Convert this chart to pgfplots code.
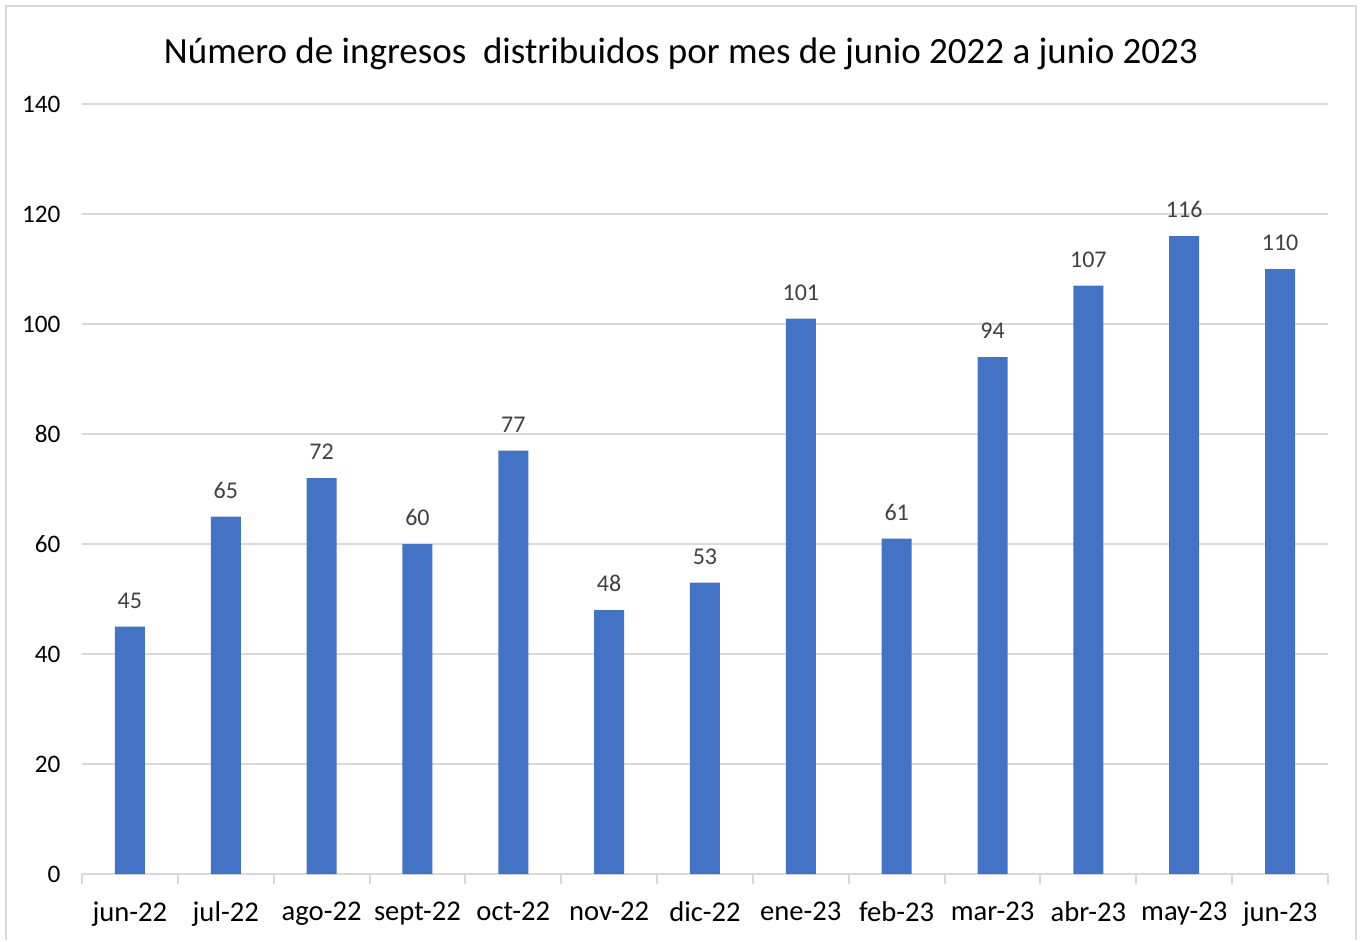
\documentclass[border=0pt]{standalone}
\usepackage{pgfplots}
\pgfplotsset{compat=1.18}
\usepackage{fontspec}
\setmainfont{Carlito}

\definecolor{barblue}{HTML}{4472C4}
\definecolor{gridgray}{HTML}{D9D9D9}
\definecolor{labgray}{HTML}{404040}

\begin{document}
\begin{tikzpicture}
\begin{axis}[
    scale only axis,
    width=623pt, height=385pt,
    ybar, bar width=15pt,
    ymin=0, ymax=140, ytick={0,20,...,140},
    xmin=-0.5, xmax=12.5,
    xtick=data,
    xticklabels={jun-22,jul-22,ago-22,sept-22,oct-22,nov-22,dic-22,ene-23,feb-23,mar-23,abr-23,may-23,jun-23},
    minor xtick={-0.5,0.5,...,12.5},
    major x tick style={draw=none},
    minor x tick style={gridgray, line width=1pt},
    minor tick length=5pt,
    tick align=outside,
    ytick style={draw=none},
    ymajorgrids, grid style={gridgray, line width=1pt},
    axis x line*=bottom, axis y line*=left,
    x axis line style={gridgray, line width=1pt, -},
    y axis line style={draw=none},
    /pgf/number format/assume math mode=true,
    tick label style={font=\fontsize{12.6pt}{14pt}\selectfont, black},
    xticklabel style={font=\fontsize{14.3pt}{16pt}\selectfont, yshift=-6pt},
    yticklabel style={xshift=-3pt},
    nodes near coords,
    every node near coord/.append style={font=\fontsize{12pt}{14pt}\selectfont, labgray, yshift=5.5pt},
    title={Número de ingresos\ \ distribuidos por mes de junio 2022 a junio 2023},
    title style={at={(0.4807,1)}, anchor=south, yshift=7.5pt, font=\fontsize{18.5pt}{21pt}\selectfont},
    clip=false,
]
\addplot[fill=barblue, draw=none] coordinates {
(0,45) (1,65) (2,72) (3,60) (4,77) (5,48) (6,53) (7,101) (8,61) (9,94) (10,107) (11,116) (12,110)};
\draw[gridgray, line width=1pt] (rel axis cs:-0.061,-0.0857) -- (rel axis cs:-0.061,1.1273) -- (rel axis cs:1.0225,1.1273) -- (rel axis cs:1.0225,-0.0857);
\useasboundingbox (rel axis cs:-0.0658,-0.0857) rectangle (rel axis cs:1.0273,1.1351);
\end{axis}
\end{tikzpicture}
\end{document}
